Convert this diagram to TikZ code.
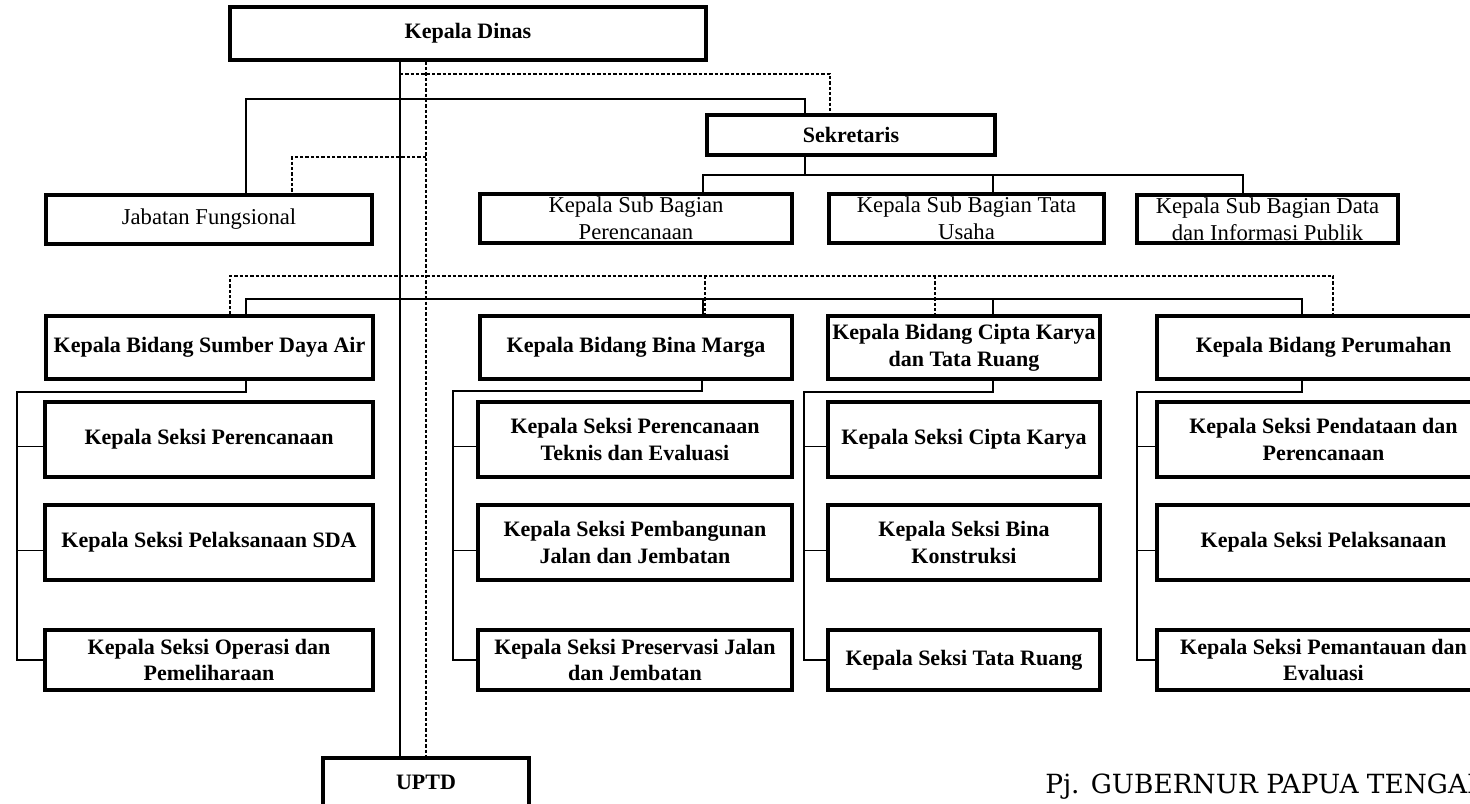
\documentclass[tikz,border=0pt]{standalone}
\usepackage{fontspec}
\setmainfont{Liberation Serif}
\newfontfamily\gubfont{DejaVu Serif}
\begin{document}
\begin{tikzpicture}[x=0.75pt,y=-0.75pt,
  box/.style={draw, line width=2.4pt, inner sep=0pt, align=center, font=\fontsize{16.5}{20}\selectfont\bfseries},
  lbox/.style={box, font=\fontsize{17}{20}\selectfont},
  sz/.style 2 args={minimum width={(#1)*0.75pt}, minimum height={(#2)*0.75pt}},
  conn/.style={line width=0.9pt},
  dconn/.style={line width=0.9pt, dash pattern=on 2.5pt off 1.5pt},
]
\useasboundingbox (0,0) rectangle (1470,803);
\fill[white] (0,0) rectangle (1470,803);
\clip (0,0) rectangle (1470,803);

% ---- boxes ----
\node[box, sz={476}{53}] (dinas) at (468,33.5) {Kepala Dinas};
\node[box, sz={288}{40}] (sek) at (851,135) {Sekretaris};
\node[lbox, sz={326}{49}] (jab) at (209,219.5) {Jabatan Fungsional};
\node[lbox, sz={312}{49}] (sbp) at (636,218.5) {Kepala Sub Bagian\\Perencanaan};
\node[lbox, sz={275}{49}] (sbt) at (966.5,218.5) {Kepala Sub Bagian Tata\\Usaha};
\node[lbox, sz={261}{48}] (sbd) at (1267.5,219) {Kepala Sub Bagian Data\\dan Informasi Publik};

\node[box, sz={327}{63}] (bsda) at (209.5,347.5) {Kepala Bidang Sumber Daya Air};
\node[box, sz={312}{63}] (bbm) at (636,347.5) {Kepala Bidang Bina Marga};
\node[box, sz={272}{63}] (bck) at (964,347.5) {Kepala Bidang Cipta Karya\\dan Tata Ruang};
\node[box, sz={333}{63}] (bpr) at (1323.5,347.5) {Kepala Bidang Perumahan};

\node[box, sz={328}{75}] (s11) at (209,439.5) {Kepala Seksi Perencanaan};
\node[box, sz={328}{75}] (s12) at (209,542.5) {Kepala Seksi Pelaksanaan SDA};
\node[box, sz={328}{60}] (s13) at (209,660) {Kepala Seksi Operasi dan\\Pemeliharaan};

\node[box, sz={314}{75}] (s21) at (635,439.5) {Kepala Seksi Perencanaan\\Teknis dan Evaluasi};
\node[box, sz={314}{75}] (s22) at (635,542.5) {Kepala Seksi Pembangunan\\Jalan dan Jembatan};
\node[box, sz={314}{60}] (s23) at (635,660) {Kepala Seksi Preservasi Jalan\\dan Jembatan};

\node[box, sz={272}{75}] (s31) at (964,439.5) {Kepala Seksi Cipta Karya};
\node[box, sz={272}{75}] (s32) at (964,542.5) {Kepala Seksi Bina\\Konstruksi};
\node[box, sz={272}{60}] (s33) at (964,660) {Kepala Seksi Tata Ruang};

\node[box, sz={333}{75}] (s41) at (1323.5,439.5) {Kepala Seksi Pendataan dan\\Perencanaan};
\node[box, sz={333}{75}] (s42) at (1323.5,542.5) {Kepala Seksi Pelaksanaan};
\node[box, sz={333}{60}] (s43) at (1323.5,660) {Kepala Seksi Pemantauan dan\\Evaluasi};

\node[box, sz={206}{48}] (uptd) at (426,782) {UPTD};

\node[anchor=base west, inner sep=0pt, font=\gubfont\fontsize{19.8}{24}\selectfont] (gub) at (1045,793) {Pj. GUBERNUR PAPUA TENGAH};

% ---- trunk lines from Kepala Dinas ----
\coordinate (vS) at (400,0);
\coordinate (vD) at (426,0);
\draw[conn] (dinas.south -| vS) -- (uptd.north -| vS);
\draw[dconn] (dinas.south -| vD) -- (uptd.north -| vD);

% Sekretaris and Jabatan Fungsional
\coordinate (h1L) at (246,99);
\coordinate (h1R) at (805,99);
\draw[conn] (jab.north -| h1L) -- (h1L) -- (h1R) -- (sek.north -| h1R);
\coordinate (h2L) at (400,74);
\coordinate (h2R) at (830,74);
\draw[dconn] (h2L) -- (h2R) -- (sek.north -| h2R);
\coordinate (h3R) at (426,157);
\coordinate (h3L) at (292,157);
\draw[dconn] (h3R) -- (h3L) -- (jab.north -| h3L);

% Sekretaris to Sub Bagian
\coordinate (h4) at (805,175);
\coordinate (h4L) at (703,175);
\coordinate (h4M) at (993,175);
\coordinate (h4R) at (1243,175);
\draw[conn] (sek.south -| h4) -- (h4);
\draw[conn] (sbp.north -| h4L) -- (h4L) -- (h4R) -- (sbd.north -| h4R);
\draw[conn] (h4M) -- (sbt.north -| h4M);

% Bidang row
\coordinate (b1) at (246,299);
\coordinate (b2) at (703,299);
\coordinate (b3) at (993,299);
\coordinate (b4) at (1302,299);
\draw[conn] (bsda.north -| b1) -- (b1) -- (b4) -- (bpr.north -| b4);
\draw[conn] (b2) -- (bbm.north -| b2);
\draw[conn] (b3) -- (bck.north -| b3);
\coordinate (d1) at (230,276);
\coordinate (d2) at (705,276);
\coordinate (d3) at (935,276);
\coordinate (d4) at (1333,276);
\draw[dconn] (bsda.north -| d1) -- (d1) -- (d4) -- (bpr.north -| d4);
\draw[dconn] (d2) -- (bbm.north -| d2);
\draw[dconn] (d3) -- (bck.north -| d3);

% Seksi brackets
\coordinate (k1) at (246,392);  \coordinate (g1) at (17,392);
\coordinate (k2) at (702,391);  \coordinate (g2) at (453,391);
\coordinate (k3) at (993,392);  \coordinate (g3) at (804,392);
\coordinate (k4) at (1302,392); \coordinate (g4) at (1137,392);

\draw[conn] (bsda.south -| k1) -- (k1) -- (g1) |- (s13.west);
\draw[conn] (bbm.south -| k2) -- (k2) -- (g2) |- (s23.west);
\draw[conn] (bck.south -| k3) -- (k3) -- (g3) |- (s33.west);
\draw[conn] (bpr.south -| k4) -- (k4) -- (g4) |- (s43.west);

\coordinate (p11) at ([yshift=-5.5pt]s11.west);
\coordinate (p12) at ([yshift=-6pt]s12.west);
\coordinate (p21) at ([yshift=-5.5pt]s21.west);
\coordinate (p22) at ([yshift=-6pt]s22.west);
\coordinate (p31) at ([yshift=-5.5pt]s31.west);
\coordinate (p32) at ([yshift=-6pt]s32.west);
\coordinate (p41) at ([yshift=-5.5pt]s41.west);
\coordinate (p42) at ([yshift=-6pt]s42.west);
\draw[conn] (g1 |- p11) -- (p11);
\draw[conn] (g1 |- p12) -- (p12);
\draw[conn] (g2 |- p21) -- (p21);
\draw[conn] (g2 |- p22) -- (p22);
\draw[conn] (g3 |- p31) -- (p31);
\draw[conn] (g3 |- p32) -- (p32);
\draw[conn] (g4 |- p41) -- (p41);
\draw[conn] (g4 |- p42) -- (p42);
\end{tikzpicture}
\end{document}
